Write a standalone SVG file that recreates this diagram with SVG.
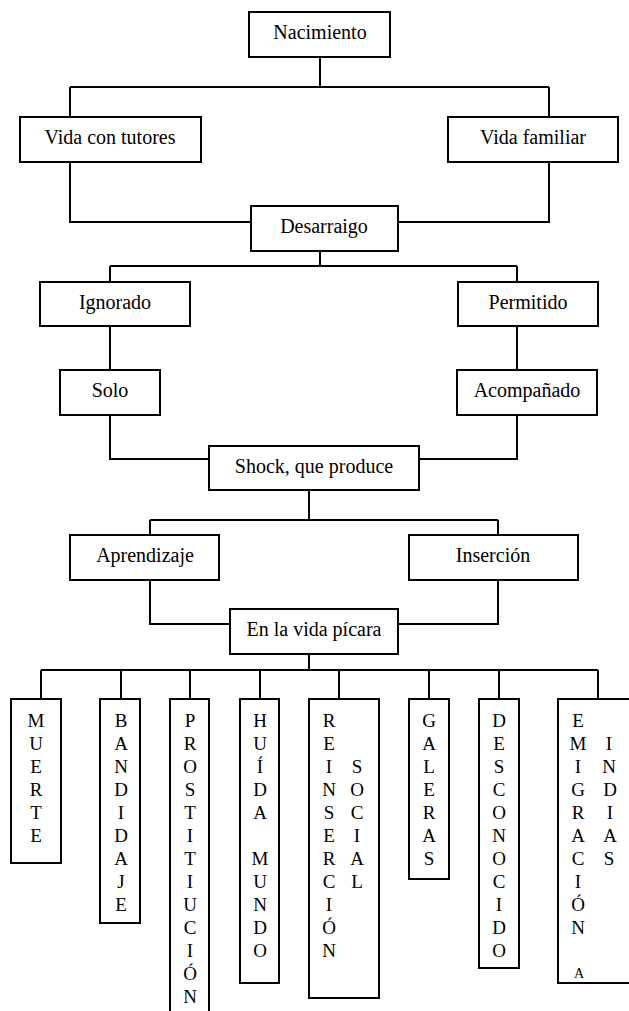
<svg xmlns="http://www.w3.org/2000/svg" width="629" height="1011" viewBox="0 0 629 1011">
  <style>
    .box { fill: #fff; stroke: #000; stroke-width: 2; }
    .wire { fill: none; stroke: #000; stroke-width: 2; }
    .lbl { font-family: "Liberation Serif", "Times New Roman", serif; font-size: 20px; fill: #000; text-anchor: middle; }
    .col { font-family: "Liberation Serif", "Times New Roman", serif; font-size: 19px; fill: #000; text-anchor: middle; }
    .small { font-size: 14px; }
  </style>
  <rect width="629" height="1011" fill="#fff"/>

  <!-- connectors -->
  <g id="connectors" class="wire">
    <path d="M320 57 V87 M70 87 H549 M70 87 V117 M549 87 V117"/>
    <path d="M70 162 V222 H251 M549 162 V222 H398"/>
    <path d="M320 251 V266 M110 266 H517 M110 266 V282 M517 266 V282"/>
    <path d="M110 326 V370 M517 326 V370"/>
    <path d="M110 415 V459 H209 M517 415 V459 H419"/>
    <path d="M309 490 V520 M150 520 H498 M150 520 V535 M498 520 V535"/>
    <path d="M150 580 V624 H230 M498 580 V624 H398"/>
    <path d="M309 654 V670 M41 670 H598"/>
    <path d="M41 670 V699 M121 670 V699 M190 670 V699 M260 670 V699 M339 670 V699 M429 670 V699 M499 670 V699 M598 670 V699"/>
  </g>

  <!-- upper nodes -->
  <g id="nacimiento"><rect class="box" x="249" y="12" width="141" height="45"/><text class="lbl" x="320" y="39">Nacimiento</text></g>
  <g id="vida-tutores"><rect class="box" x="20" y="117" width="181" height="45"/><text class="lbl" x="110" y="144">Vida con tutores</text></g>
  <g id="vida-familiar"><rect class="box" x="448" y="117" width="170" height="45"/><text class="lbl" x="533" y="144">Vida familiar</text></g>
  <g id="desarraigo"><rect class="box" x="251" y="206" width="147" height="45"/><text class="lbl" x="324" y="233">Desarraigo</text></g>
  <g id="ignorado"><rect class="box" x="40" y="282" width="150" height="44"/><text class="lbl" x="115" y="309">Ignorado</text></g>
  <g id="permitido"><rect class="box" x="458" y="282" width="140" height="44"/><text class="lbl" x="528" y="309">Permitido</text></g>
  <g id="solo"><rect class="box" x="60" y="370" width="100" height="45"/><text class="lbl" x="110" y="397">Solo</text></g>
  <g id="acompanado"><rect class="box" x="457" y="370" width="140" height="45"/><text class="lbl" x="527" y="397">Acompañado</text></g>
  <g id="shock"><rect class="box" x="209" y="446" width="210" height="44"/><text class="lbl" x="314" y="473">Shock, que produce</text></g>
  <g id="aprendizaje"><rect class="box" x="70" y="535" width="149" height="45"/><text class="lbl" x="145" y="562">Aprendizaje</text></g>
  <g id="insercion"><rect class="box" x="409" y="535" width="169" height="45"/><text class="lbl" x="493" y="562">Inserción</text></g>
  <g id="vida-picara"><rect class="box" x="230" y="609" width="168" height="45"/><text class="lbl" x="314" y="636">En la vida pícara</text></g>

  <!-- outcome columns, one letter per row (row pitch 23) -->
  <g id="muerte"><rect class="box" x="11" y="699" width="50" height="164"/>
    <text class="col"><tspan x="36" y="727">M</tspan><tspan x="36" y="750">U</tspan><tspan x="36" y="773">E</tspan><tspan x="36" y="796">R</tspan><tspan x="36" y="819">T</tspan><tspan x="36" y="842">E</tspan></text></g>
  <g id="bandidaje"><rect class="box" x="100" y="699" width="40" height="224"/>
    <text class="col"><tspan x="121" y="727">B</tspan><tspan x="121" y="750">A</tspan><tspan x="121" y="773">N</tspan><tspan x="121" y="796">D</tspan><tspan x="121" y="819">I</tspan><tspan x="121" y="842">D</tspan><tspan x="121" y="865">A</tspan><tspan x="121" y="888">J</tspan><tspan x="121" y="911">E</tspan></text></g>
  <g id="prostitucion"><rect class="box" x="170" y="699" width="39" height="330"/>
    <text class="col"><tspan x="190" y="727">P</tspan><tspan x="190" y="750">R</tspan><tspan x="190" y="773">O</tspan><tspan x="190" y="796">S</tspan><tspan x="190" y="819">T</tspan><tspan x="190" y="842">I</tspan><tspan x="190" y="865">T</tspan><tspan x="190" y="888">I</tspan><tspan x="190" y="911">U</tspan><tspan x="190" y="934">C</tspan><tspan x="190" y="957">I</tspan><tspan x="190" y="980">Ó</tspan><tspan x="190" y="1003">N</tspan></text></g>
  <g id="huida"><rect class="box" x="240" y="699" width="39" height="284"/>
    <text class="col"><tspan x="260" y="727">H</tspan><tspan x="260" y="750">U</tspan><tspan x="260" y="773">Í</tspan><tspan x="260" y="796">D</tspan><tspan x="260" y="819">A</tspan><tspan x="260" y="865">M</tspan><tspan x="260" y="888">U</tspan><tspan x="260" y="911">N</tspan><tspan x="260" y="934">D</tspan><tspan x="260" y="957">O</tspan></text></g>
  <g id="reinsercion"><rect class="box" x="309" y="699" width="70" height="299"/>
    <text class="col"><tspan x="329" y="727">R</tspan><tspan x="329" y="750">E</tspan><tspan x="329" y="773">I</tspan><tspan x="329" y="796">N</tspan><tspan x="329" y="819">S</tspan><tspan x="329" y="842">E</tspan><tspan x="329" y="865">R</tspan><tspan x="329" y="888">C</tspan><tspan x="329" y="911">I</tspan><tspan x="329" y="934">Ó</tspan><tspan x="329" y="957">N</tspan></text>
    <text class="col"><tspan x="357" y="773">S</tspan><tspan x="357" y="796">O</tspan><tspan x="357" y="819">C</tspan><tspan x="357" y="842">I</tspan><tspan x="357" y="865">A</tspan><tspan x="357" y="888">L</tspan></text></g>
  <g id="galeras"><rect class="box" x="409" y="699" width="40" height="180"/>
    <text class="col"><tspan x="429" y="727">G</tspan><tspan x="429" y="750">A</tspan><tspan x="429" y="773">L</tspan><tspan x="429" y="796">E</tspan><tspan x="429" y="819">R</tspan><tspan x="429" y="842">A</tspan><tspan x="429" y="865">S</tspan></text></g>
  <g id="desconocido"><rect class="box" x="479" y="699" width="40" height="269"/>
    <text class="col"><tspan x="499" y="727">D</tspan><tspan x="499" y="750">E</tspan><tspan x="499" y="773">S</tspan><tspan x="499" y="796">C</tspan><tspan x="499" y="819">O</tspan><tspan x="499" y="842">N</tspan><tspan x="499" y="865">O</tspan><tspan x="499" y="888">C</tspan><tspan x="499" y="911">I</tspan><tspan x="499" y="934">D</tspan><tspan x="499" y="957">O</tspan></text></g>
  <g id="emigracion"><rect class="box" x="558" y="699" width="80" height="284"/>
    <text class="col"><tspan x="578" y="727">E</tspan><tspan x="578" y="750">M</tspan><tspan x="578" y="773">I</tspan><tspan x="578" y="796">G</tspan><tspan x="578" y="819">R</tspan><tspan x="578" y="842">A</tspan><tspan x="578" y="865">C</tspan><tspan x="578" y="888">I</tspan><tspan x="578" y="911">Ó</tspan><tspan x="578" y="934">N</tspan></text>
    <text class="col small" x="579" y="978">A</text>
    <text class="col"><tspan x="609" y="750">I</tspan><tspan x="609" y="773">N</tspan><tspan x="610" y="796">D</tspan><tspan x="610" y="819">I</tspan><tspan x="610" y="842">A</tspan><tspan x="609" y="865">S</tspan></text></g>
</svg>
